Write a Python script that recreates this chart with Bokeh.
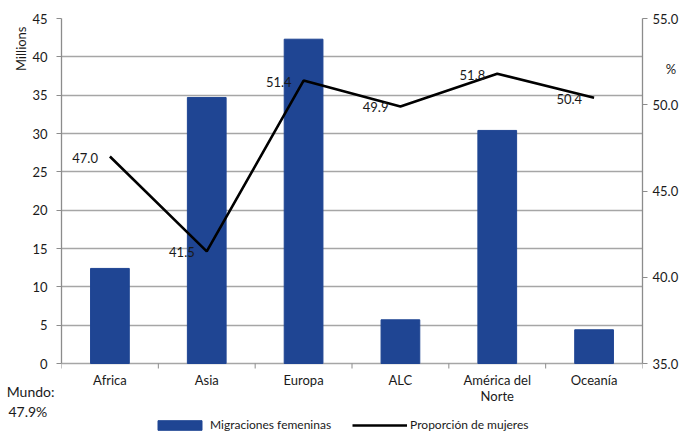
import numpy as np
from bokeh.plotting import figure
from bokeh.models import (Range1d, LinearAxis, FixedTicker, ColumnDataSource,
                          Legend, LegendItem, Title, PrintfTickFormatter)
from bokeh.core.properties import value
from bokeh.embed import file_html
from bokeh.resources import INLINE

# ---- data ----
categories = ["Africa", "Asia", "Europa", "ALC", "América del\nNorte", "Oceanía"]
migraciones = [12.4, 34.7, 42.3, 5.7, 30.4, 4.4]      # millions
proporcion = [47.0, 41.5, 51.4, 49.9, 51.8, 50.4]      # %
left_ticks = [0, 5, 10, 15, 20, 25, 30, 35, 40, 45]
right_ticks = [35, 40, 45, 50, 55]
mundo_lines = ["Mundo:", "47.9%"]
bar_label = "Migraciones femeninas"
line_label = "Proporción de mujeres"
left_unit = "Millions"
right_unit = "%"

FONT = "Lato"
TXT = "#1a1a1a"
GRID = "#a6a6a6"
AXIS = "#8c8c8c"
BLUE = "#1f4593"
NB = "\u00a0"

# ---- layout (pixels) ----
PLOT_H = 345      # height of the value area (0..45)
BELOW_H = 73      # space under the zero line for labels and legend
n = len(categories)
xs = [i + 0.5 for i in range(n)]
bounds_x = list(range(n + 1))

lo, hi = left_ticks[0], left_ticks[-1]
rlo, rhi = right_ticks[0], right_ticks[-1]
y_start = lo - BELOW_H * (hi - lo) / PLOT_H
r_start = rlo - BELOW_H * (rhi - rlo) / PLOT_H

src = ColumnDataSource(dict(x=xs, m=migraciones, p=proporcion,
                            lab=[f"{v:.1f}" for v in proporcion]))
cat_src = ColumnDataSource(dict(x=xs, y=[lo] * n, t=categories))

p = figure(frame_width=581, frame_height=PLOT_H + BELOW_H, output_backend="svg",
           toolbar_location=None, x_axis_location=None,
           x_range=Range1d(0, n), y_range=Range1d(y_start, hi),
           min_border_left=61, min_border_right=52, min_border_top=18,
           min_border_bottom=0, outline_line_color=None)
p.extra_y_ranges = {"pct": Range1d(r_start, rhi)}

p.xgrid.visible = False
p.ygrid.ticker = FixedTicker(ticks=left_ticks)
p.ygrid.grid_line_color = GRID
p.ygrid.grid_line_width = 1.4

bars = p.vbar(x="x", top="m", bottom=lo, width=0.4, source=src,
              fill_color=BLUE, line_color=BLUE)
line = p.line(x="x", y="p", source=src, y_range_name="pct",
              line_color="black", line_width=2.6)
p.text(x="x", y="p", text="lab", source=src, y_range_name="pct", x_offset=-12, y_offset=1,
       text_align="right", text_baseline="middle", text_font=value(FONT),
       text_font_size="13px", text_color=TXT)

# category axis under the zero line: ticks between categories and labels
p.ray(x=bounds_x, y=[lo] * (n + 1), length=5, length_units="screen",
      angle=-np.pi / 2, line_color=AXIS, line_width=1)
p.text(x="x", y="y", text="t", source=cat_src, y_offset=8,
       text_align="center", text_baseline="top", text_font=value(FONT),
       text_font_size="13px", text_line_height=1.0, text_color=TXT)

# left axis
ya = p.yaxis[0]
ya.bounds = (lo, hi)
ya.ticker = FixedTicker(ticks=left_ticks)
ya.major_tick_out = 5
ya.major_tick_in = 0
ya.minor_tick_line_color = None
ya.major_tick_line_color = AXIS
ya.axis_line_color = AXIS
ya.axis_line_width = 1.3
ya.major_label_standoff = 9
ya.major_label_text_font = FONT
ya.major_label_text_font_size = "13px"
ya.major_label_text_color = TXT

# right axis (with "%" unit shown as a label near the top)
unit_y = 52.1
ra = LinearAxis(y_range_name="pct", bounds=(rlo, rhi),
                ticker=FixedTicker(ticks=right_ticks + [unit_y], minor_ticks=right_ticks),
                formatter=PrintfTickFormatter(format="%.1f"))
ra.major_label_overrides = {unit_y: NB * 4 + right_unit}
ra.major_tick_out = 5
ra.major_tick_in = 0
ra.major_tick_line_color = None
ra.minor_tick_out = 5
ra.minor_tick_in = 0
ra.minor_tick_line_color = AXIS
ra.axis_line_color = AXIS
ra.axis_line_width = 1.3
ra.major_label_standoff = 5
ra.major_label_text_font = FONT
ra.major_label_text_font_size = "13px"
ra.major_label_text_color = TXT
p.add_layout(ra, "right")

# "Millions" unit on the left
p.add_layout(Title(text=left_unit, align="right", offset=8, standoff=2,
                   text_font=FONT, text_font_size="13px", text_font_style="normal",
                   text_color=TXT), "left")

# "Mundo: 47.9%" note at the bottom-left, carried by a bare outer axis
mundo_y = lo - 38 * (hi - lo) / PLOT_H
ma = LinearAxis(ticker=FixedTicker(ticks=[mundo_y]))
ma.major_label_overrides = {mundo_y: mundo_lines[0] + "\n" + mundo_lines[1] + NB * 2}
ma.axis_line_color = None
ma.major_tick_line_color = None
ma.minor_tick_line_color = None
ma.major_tick_out = 0
ma.major_tick_in = 0
ma.minor_tick_out = 0
ma.minor_tick_in = 0
ma.major_label_standoff = -45
ma.major_label_text_font = FONT
ma.major_label_text_font_size = "14px"
ma.major_label_text_color = TXT
p.add_layout(ma, "left")

legend = Legend(items=[LegendItem(label=bar_label, renderers=[bars]),
                       LegendItem(label=line_label, renderers=[line])],
                orientation="horizontal", location=(91, 4), padding=0, margin=0,
                spacing=21, border_line_color=None, background_fill_alpha=0,
                glyph_width=55, glyph_height=12, label_height=14, label_standoff=3,
                label_text_font=FONT, label_text_font_size="12px",
                label_text_color=TXT)
p.add_layout(legend, "center")

open("out.html", "w").write(file_html(p, INLINE))
